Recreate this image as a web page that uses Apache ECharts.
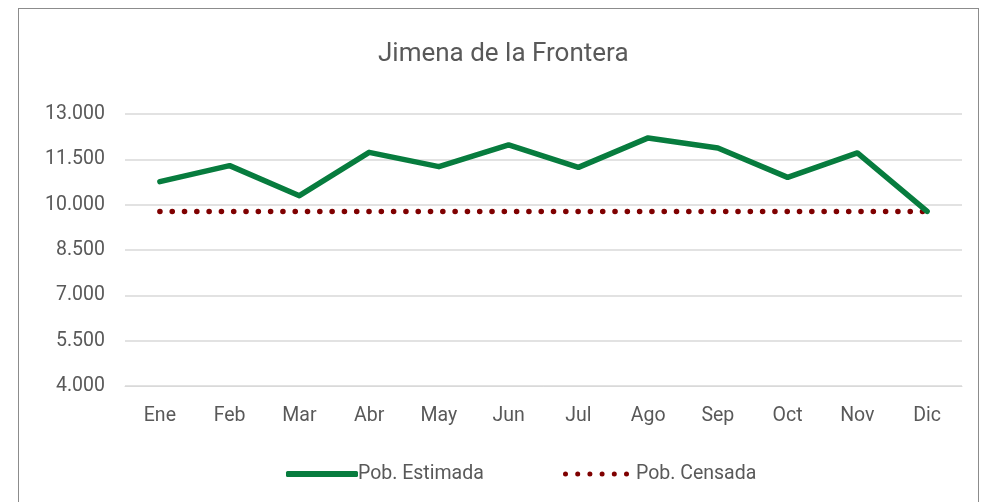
<!DOCTYPE html>
<html><head><meta charset="utf-8">
<script src="https://cdn.jsdelivr.net/npm/echarts@6/dist/echarts.min.js"></script>
<style>
html,body{margin:0;padding:0;background:#fff;overflow:hidden;}
#frame{position:absolute;left:18px;top:8px;width:961px;height:600px;border:1px solid #8c8c8c;box-sizing:border-box;}
#chart{position:absolute;left:0;top:0;width:984px;height:502px;}
</style></head>
<body>
<div id="frame"></div>
<div id="chart"></div>
<script>
const chartTitle = 'Jimena de la Frontera';
const months = ['Ene','Feb','Mar','Abr','May','Jun','Jul','Ago','Sep','Oct','Nov','Dic'];
const estimada = [10762, 11291, 10298, 11732, 11258, 11977, 11235, 12209, 11877, 10904, 11712, 9778];
const censada = [9778, 9778, 9778, 9778, 9778, 9778, 9778, 9778, 9778, 9778, 9778, 9778];
const seriesNames = ['Pob. Estimada', 'Pob. Censada'];
const yMin = 4000, yMax = 13000, yStep = 1500;

const FONT = "Roboto, 'Liberation Sans', sans-serif";
const GREEN = '#077c3e', RED = '#7f0000';
function fmt(v){ return Math.floor(v/1000) + '.' + String(v % 1000).padStart(3,'0'); }
let dots = '';
for (let i = 0; i < 6; i++) { const cx = 2.5 + i * 12.2; dots += 'M' + (cx-2.5) + ',3a2.5,2.5 0 1,0 5,0a2.5,2.5 0 1,0 -5,0z'; }
const legText = {fontFamily:FONT,fontSize:19.5,color:'#595959'};

const chart = echarts.init(document.getElementById('chart'), null, {renderer:'canvas'});
chart.setOption({
  animation:false,
  title:{text:chartTitle,left:373,top:36,textStyle:{fontFamily:FONT,fontSize:26,fontWeight:'normal',color:'#595959'}},
  grid:{left:125,right:22,top:114,bottom:116},
  legend:[
    {left:281,bottom:13,itemWidth:72,itemHeight:6,textStyle:Object.assign({padding:[0,0,0,-5]},legText),
     data:[{name:seriesNames[0],icon:'roundRect',itemStyle:{color:GREEN}}]},
    {left:558,bottom:13,itemWidth:66,itemHeight:5,textStyle:Object.assign({padding:[0,0,0,2]},legText),
     data:[{name:seriesNames[1],icon:'path://' + dots,itemStyle:{color:RED}}]}
  ],
  xAxis:{type:'category',data:months,boundaryGap:true,
    axisLine:{show:true,lineStyle:{color:'#d9d9d9',width:1}},axisTick:{show:false},
    axisLabel:{fontFamily:FONT,fontSize:19.5,color:'#595959',margin:20}},
  yAxis:{type:'value',min:yMin,max:yMax,interval:yStep,
    axisLine:{show:false},axisTick:{show:false},
    splitLine:{lineStyle:{color:'#d9d9d9',width:1.5}},
    axisLabel:{fontFamily:FONT,fontSize:19.5,color:'#595959',margin:20,formatter:fmt}},
  series:[
    {name:seriesNames[1],type:'line',data:censada,symbol:'none',z:2,
      lineStyle:{color:RED,width:5.5,type:[0.1,12.2],cap:'round'},itemStyle:{color:RED}},
    {name:seriesNames[0],type:'line',data:estimada,symbol:'none',z:3,
      lineStyle:{color:GREEN,width:5.5,cap:'round',join:'round'},itemStyle:{color:GREEN}}
  ]
});
</script>
</body></html>
